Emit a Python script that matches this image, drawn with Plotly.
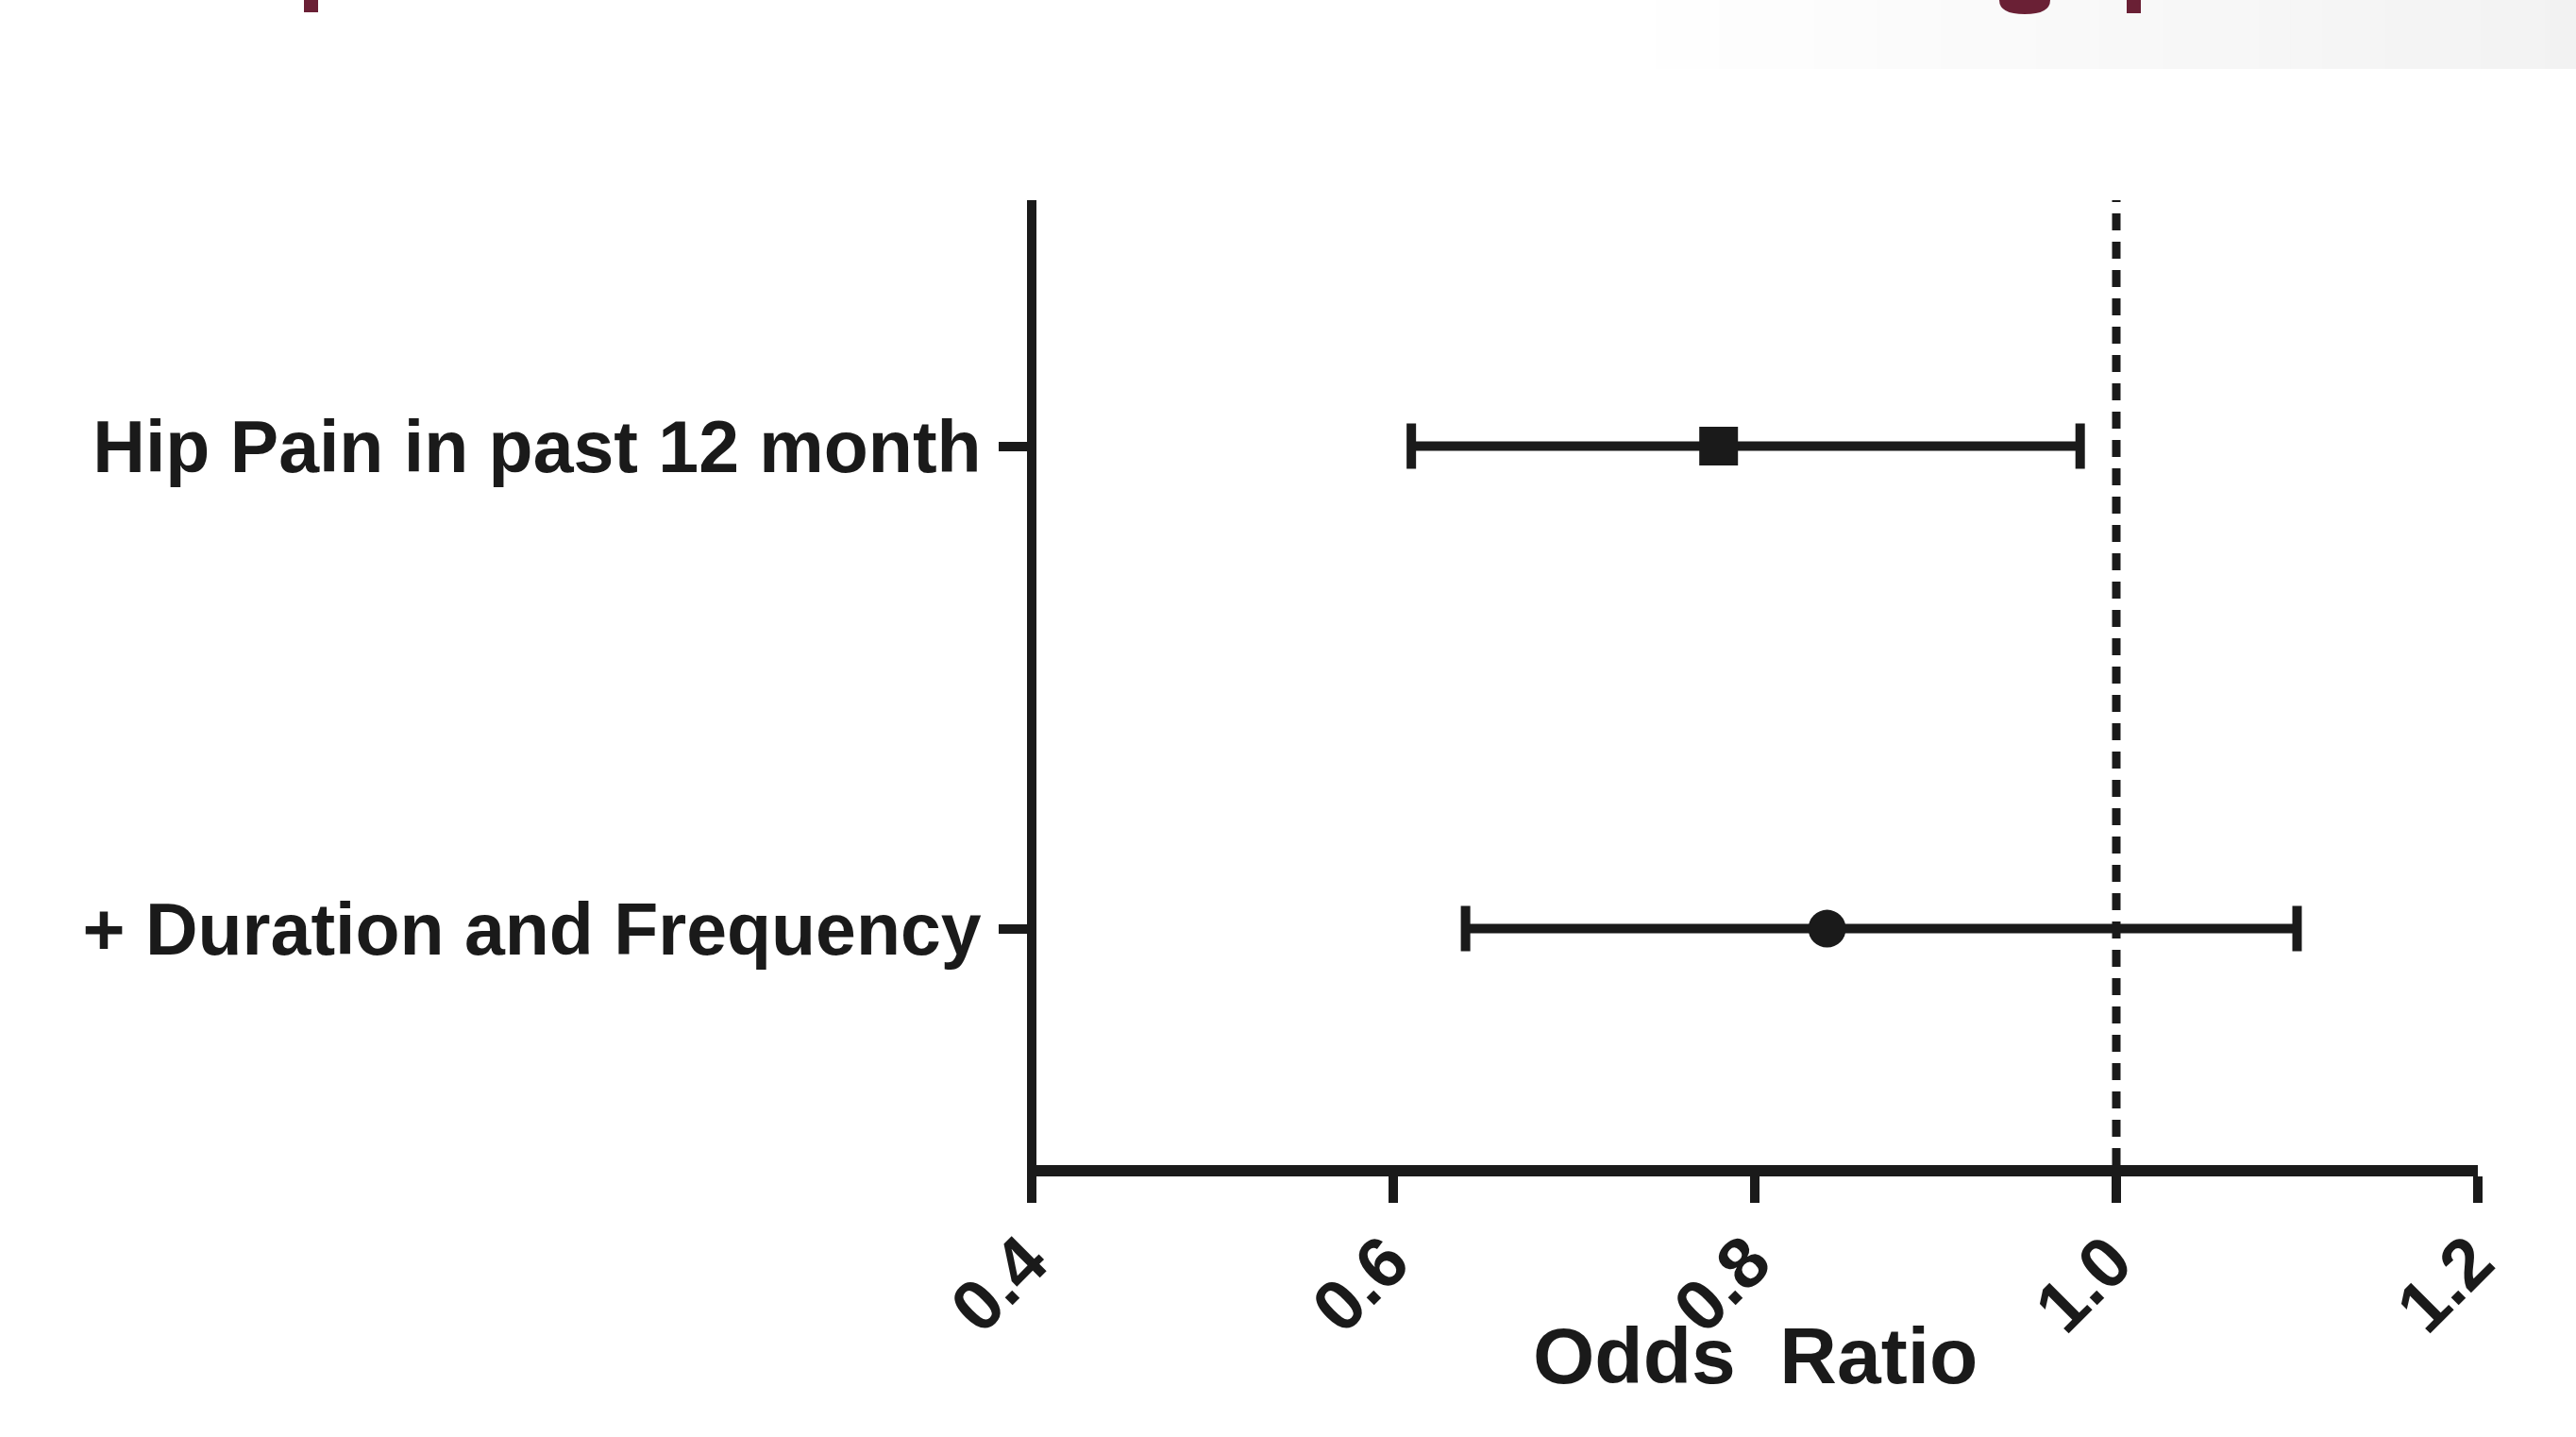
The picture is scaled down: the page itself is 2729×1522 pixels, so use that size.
import plotly.graph_objects as go

# ---- data ----
categories = ["Hip Pain in past 12 month", "+ Duration and Frequency"]
odds_ratio = [0.78, 0.84]
ci_low = [0.61, 0.64]
ci_high = [0.98, 1.10]
symbols = ["square", "circle"]
x_ticks = [0.4, 0.6, 0.8, 1.0, 1.2]
x_tick_labels = ["0.4", "0.6", "0.8", "1.0", "1.2"]
reference_or = 1.0
x_title = "Odds  Ratio"

# ---- layout geometry (pixels) ----
W_PX, H_PX = 2729, 1522
L, R, T, B = 1093, 2625, 212, 1234
PW, PH = R - L, B - T
INK = "#1a1a1a"
FONT = "Liberation Sans, Arial, sans-serif"


def px_x(p):
    return (p - L) / PW


def px_y(p):
    return (B - p) / PH


fig = go.Figure()
for cat, orv, lo, hi, sym in zip(categories, odds_ratio, ci_low, ci_high, symbols):
    fig.add_trace(go.Scatter(
        x=[orv], y=[cat], mode="markers",
        marker=dict(symbol=sym, size=41 if sym == "square" else 40, color=INK,
                    line=dict(width=0)),
        error_x=dict(type="data", symmetric=False, array=[hi - orv],
                     arrayminus=[orv - lo], color=INK, thickness=10, width=24),
        showlegend=False, cliponaxis=False,
    ))

shapes = []
# faint grey gradient band at top right
n = 30
x0, x1 = 1720, W_PX
for i in range(n):
    a = x0 + (x1 - x0) * i / n
    b = x0 + (x1 - x0) * (i + 1) / n
    g = int(round(255 - (255 - 242) * (i + 0.5) / n))
    shapes.append(dict(type="rect", xref="paper", yref="paper",
                       x0=px_x(a), x1=px_x(b) + 0.0005, y0=px_y(73), y1=px_y(0),
                       fillcolor=f"rgb({g},{g},{g})", line=dict(width=0), layer="below"))
# remnants of the clipped slide heading
RED = "#6a2035"
for (a, b, h) in [(322, 337, 13), (2253, 2268, 14)]:
    shapes.append(dict(type="rect", xref="paper", yref="paper",
                       x0=px_x(a), x1=px_x(b), y0=px_y(h), y1=px_y(0),
                       fillcolor=RED, line=dict(width=0)))
gx0, gx1, gh = 2118, 2172, 15
path = (f"M {px_x(gx0)},{px_y(0)} Q {px_x(gx0)},{px_y(gh)} {px_x((gx0+gx1)/2)},{px_y(gh)} "
        f"Q {px_x(gx1)},{px_y(gh)} {px_x(gx1)},{px_y(0)} Z")
shapes.append(dict(type="path", xref="paper", yref="paper", path=path,
                   fillcolor=RED, line=dict(width=0)))
# reference line at OR = 1
shapes.append(dict(type="line", xref="x", yref="paper", x0=reference_or, x1=reference_or,
                   y0=0, y1=1.0, line=dict(color=INK, width=9, dash="18px,12px")))
# y axis line, centred on the first x tick (paper refs so it is not clipped)
shapes.append(dict(type="line", xref="paper", yref="paper", x0=0, x1=0,
                   y0=px_y(1246), y1=1.0, line=dict(color=INK, width=10)))

fig.update_layout(
    width=W_PX, height=H_PX,
    margin=dict(l=L, r=W_PX - R, t=T, b=H_PX - B, autoexpand=False),
    paper_bgcolor="white", plot_bgcolor="white",
    font=dict(family=FONT, color=INK),
    shapes=shapes,
    xaxis=dict(range=[x_ticks[0], x_ticks[-1]], tickvals=x_ticks, ticktext=x_tick_labels,
               tickangle=-45, showgrid=False, zeroline=False,
               showline=True, linecolor=INK, linewidth=12,
               ticks="outside", ticklen=28, tickwidth=10, tickcolor=INK,
               tickfont=dict(size=76, family=FONT, color=INK, weight="bold"),
               ticklabelstandoff=-13, ticklabelshift=-6),
    yaxis=dict(type="category", categoryorder="array", categoryarray=categories[::-1],
               range=[-0.49, 1.51], showgrid=False, zeroline=False,
               showline=False,
               ticks="outside", ticklen=34, tickwidth=10, tickcolor=INK,
               tickfont=dict(size=77, family=FONT, color=INK, weight="bold"),
               ticklabelstandoff=3),
    annotations=[dict(text=x_title, xref="paper", yref="paper", x=0.5, y=px_y(1436),
                      xanchor="center", yanchor="middle", showarrow=False,
                      font=dict(size=84, family=FONT, color=INK, weight="bold"))],
)

fig.write_html("out.html", config={"displayModeBar": False},
               post_script="document.body.style.margin='0';document.body.style.overflow='hidden';")
